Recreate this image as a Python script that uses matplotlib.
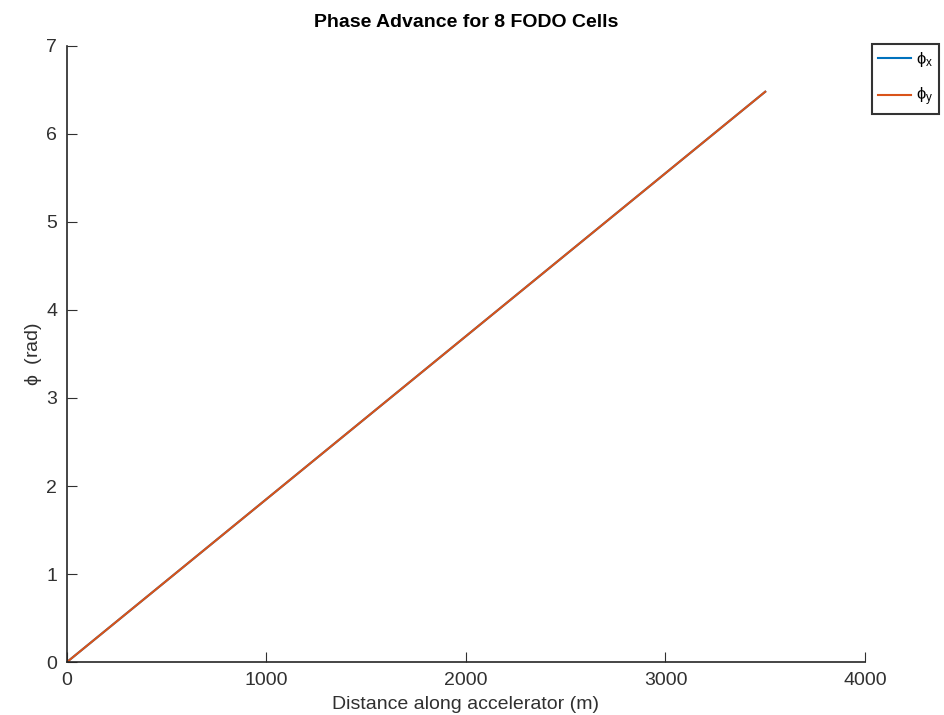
import matplotlib
matplotlib.use("Agg")
import matplotlib.pyplot as plt

s_pos = [0, 437.5, 875, 1312.5, 1750, 2187.5, 2625, 3062.5, 3500]
phi_x = [0, 0.81, 1.62, 2.43, 3.24, 4.05, 4.86, 5.67, 6.48]
phi_y = [0, 0.81, 1.62, 2.43, 3.24, 4.05, 4.86, 5.67, 6.48]

plt.rcParams["font.family"] = ["Liberation Sans", "DejaVu Sans"]
plt.rcParams["mathtext.fontset"] = "custom"
plt.rcParams["mathtext.rm"] = "Liberation Sans"
plt.rcParams["mathtext.it"] = "Liberation Sans"

fig = plt.figure(figsize=(9.45, 7.15), dpi=100)
ax = fig.add_axes([0.0709, 0.0741, 0.8444, 0.8616])

ax.plot(s_pos, phi_x, color="#0072BD", lw=1.5, label=r"$\phi_{\mathrm{x}}$")
ax.plot(s_pos, phi_y, color="#D95319", lw=1.5, label=r"$\phi_{\mathrm{y}}$")

ax.set_xlim(0, 4000)
ax.set_ylim(0, 7)
ax.set_xticks([0, 1000, 2000, 3000, 4000])
ax.set_yticks(range(8))
ax.tick_params(direction="in", length=7, labelsize=14, colors="#303030", pad=7)
for side in ("top", "right"):
    ax.spines[side].set_visible(False)
for side in ("left", "bottom"):
    ax.spines[side].set_color("#262626")
    ax.spines[side].set_linewidth(1.2)

ax.set_xlabel("Distance along accelerator (m)", fontsize=14, color="#303030", labelpad=5)
ax.set_ylabel(r"$\phi$  (rad)", fontsize=14, color="#303030", labelpad=2)
ax.set_title("Phase Advance for 8 FODO Cells", fontsize=14, fontweight="bold", pad=14)

leg = ax.legend(loc="upper left", bbox_to_anchor=(872 / 945, 1 - 44 / 715),
                bbox_transform=fig.transFigure, borderaxespad=0, frameon=True,
                fancybox=False, edgecolor="black", fontsize=12,
                handlelength=2.0, handletextpad=0.3, borderpad=0.35,
                labelspacing=1.0)
leg.get_frame().set_linewidth(1.5)

fig.savefig("out.png", dpi=100)
